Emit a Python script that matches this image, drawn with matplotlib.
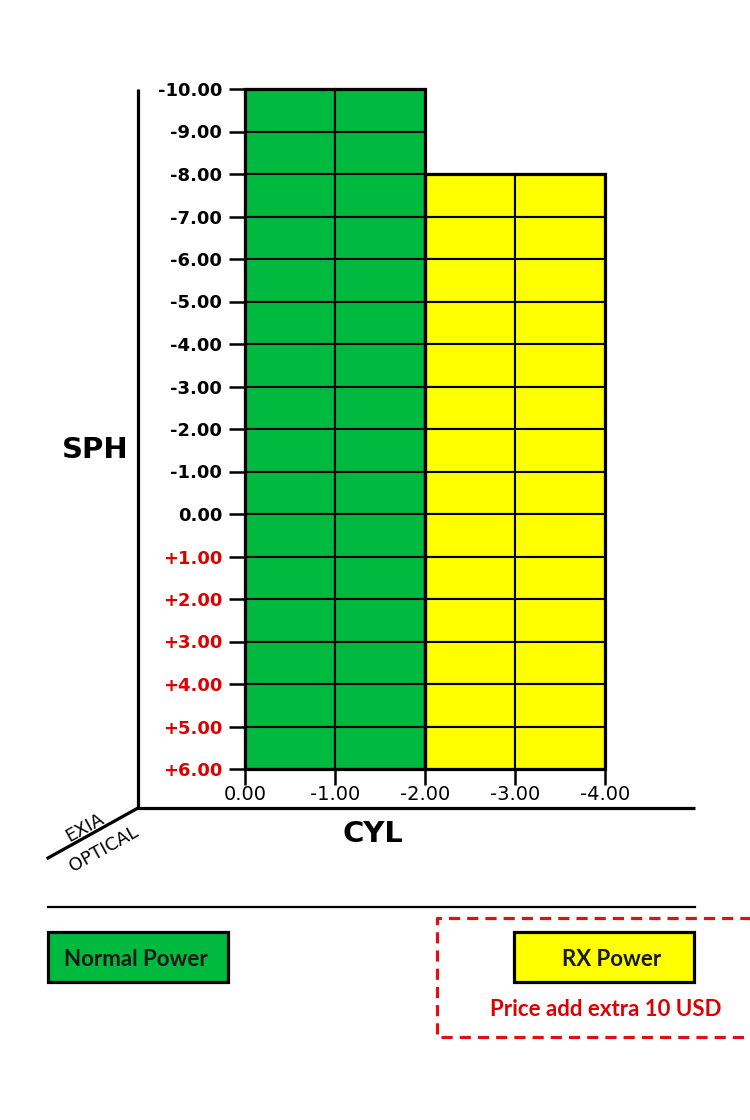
import matplotlib
matplotlib.use('Agg')
import matplotlib.pyplot as plt

# dados do grafico
cyl_ticks = [0.0, -1.0, -2.0, -3.0, -4.0]
sph_ticks = [-10, -9, -8, -7, -6, -5, -4, -3, -2, -1, 0, 1, 2, 3, 4, 5, 6]
col_cyl = [0, -1, -2, -3]          # borda esquerda de cada coluna
col_sph_top = [-10, -10, -8, -8]   # valor SPH mais alto de cada coluna
sph_bottom = 6
col_kind = ['normal', 'normal', 'rx', 'rx']

verde = '#00BA3F'
amarelo = '#FFFF00'
vermelho = '#DD0000'
cores = {'normal': verde, 'rx': amarelo}

fig = plt.figure(figsize=(7.5, 11.2), dpi=100)

# camada de fundo em pixels
bg = fig.add_axes([0, 0, 1, 1])
bg.set_xlim(0, 750)
bg.set_ylim(1120, 0)
bg.axis('off')

# eixos decorativos
bg.plot([138, 138], [89, 808], color='black', lw=2.3, solid_capstyle='butt')
bg.plot([137, 695], [808, 808], color='black', lw=2.3, solid_capstyle='butt')
bg.plot([138, 48], [808, 858], color='black', lw=2.3)
bg.text(85, 828, 'EXIA', rotation=29, ha='center', va='center', fontsize=13)
bg.text(104, 849, 'OPTICAL', rotation=29, ha='center', va='center', fontsize=13)
bg.text(95, 450, 'SPH', ha='center', va='center', fontsize=21, fontweight='heavy')
bg.text(373, 834, 'CYL', ha='center', va='center', fontsize=21, fontweight='heavy')

# separador
bg.plot([48, 695], [907, 907], color='black', lw=1.6)

# legenda
bg.add_patch(plt.Rectangle((48, 932), 180, 50, facecolor=verde, edgecolor='black', lw=2.3))
bg.text(136, 960, 'Normal Power', ha='center', va='center', fontsize=16,
        fontweight='bold', family='Lato', color='#1a1a1a')
bg.add_patch(plt.Rectangle((514, 932), 180, 50, facecolor=amarelo, edgecolor='black', lw=2.3))
bg.text(612, 960, 'RX Power', ha='center', va='center', fontsize=16,
        fontweight='bold', family='Lato', color='#1a1a1a')
bg.plot([760, 437, 437, 760], [918, 918, 1037, 1037], color='#DD1111', lw=2.3,
        linestyle=(0, (3.5, 2.2)))
bg.text(606, 1009, 'Price add extra 10 USD', ha='center', va='center', fontsize=16,
        fontweight='bold', family='Lato', color=vermelho)

# grade principal
ax = fig.add_axes([245 / 750, 1 - 769 / 1120, 360 / 750, 680 / 1120])
ax.patch.set_alpha(0)
ax.set_xlim(0, -4)
ax.set_ylim(sph_bottom, -10)

for c, top, k in zip(col_cyl, col_sph_top, col_kind):
    for s in range(top, sph_bottom):
        ax.bar(c - 0.5, 1, bottom=s, width=1, color=cores[k], edgecolor='black',
               lw=1.5, clip_on=False)

# contorno dos blocos
for k in ['normal', 'rx']:
    cs = [c for c, kk in zip(col_cyl, col_kind) if kk == k]
    tops = [t for t, kk in zip(col_sph_top, col_kind) if kk == k]
    esq = max(cs)
    dirx = min(cs) - 1
    ax.bar((esq + dirx) / 2, sph_bottom - min(tops), bottom=min(tops), width=esq - dirx,
           fill=False, edgecolor='black', lw=2.3, clip_on=False, zorder=3)

for sp in ax.spines.values():
    sp.set_visible(False)

ax.set_yticks(sph_ticks)
ylabels = []
for s in sph_ticks:
    if s > 0:
        ylabels.append('+%.2f' % s)
    else:
        ylabels.append('%.2f' % s)
ax.set_yticklabels(ylabels, fontsize=13, fontweight='bold')
for lab, s in zip(ax.get_yticklabels(), sph_ticks):
    lab.set_color(vermelho if s > 0 else 'black')
ax.tick_params(axis='y', length=11.5, width=1.8, pad=5)

ax.set_xticks(cyl_ticks)
ax.set_xticklabels(['%.2f' % c for c in cyl_ticks], fontsize=14)
ax.tick_params(axis='x', length=11.5, width=1.8, pad=0)

fig.savefig('out.png', dpi=100)
